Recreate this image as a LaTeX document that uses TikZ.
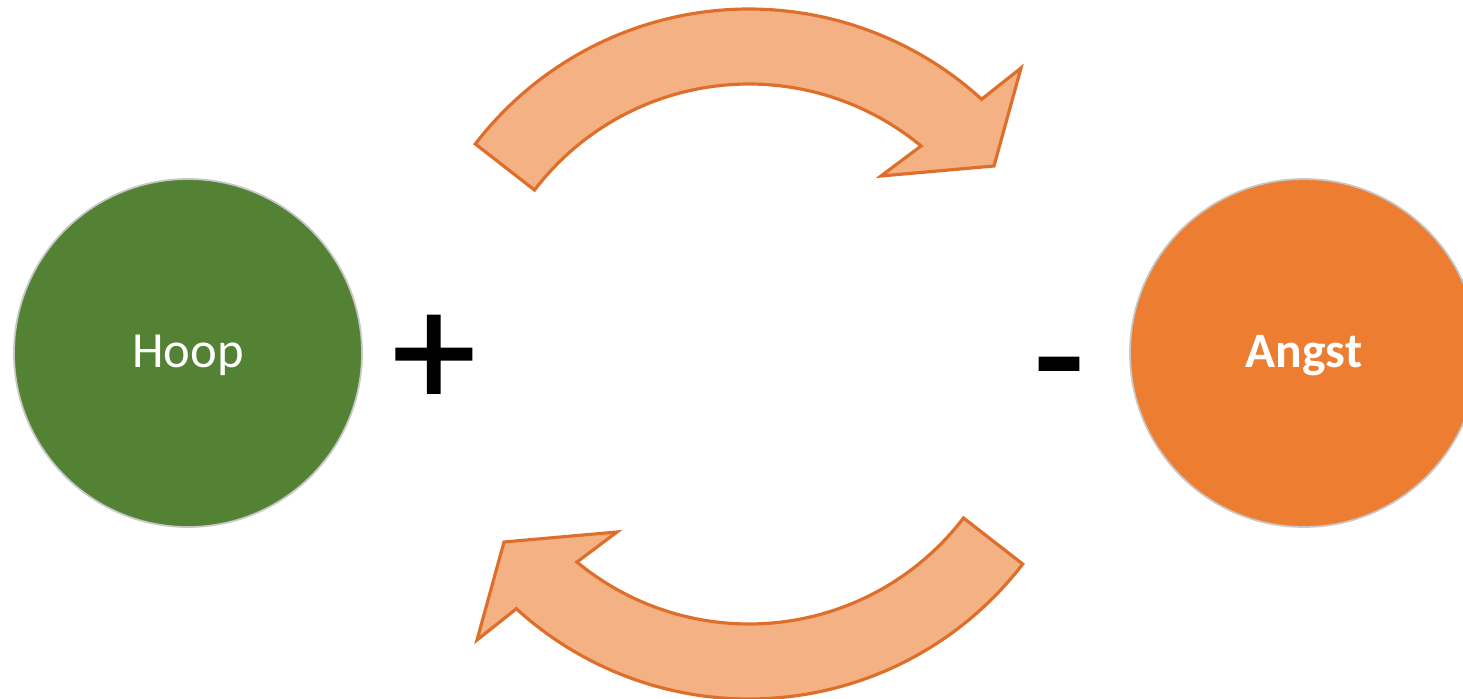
\documentclass[tikz,border=0pt]{standalone}
\usepackage{fontspec}
\setmainfont{Carlito}
\newfontfamily\symfont[FakeBold=1.3]{Carlito}
\definecolor{arrowfill}{HTML}{F4B183}
\definecolor{arrowline}{HTML}{DE6E2A}
\definecolor{hoopgreen}{HTML}{548235}
\definecolor{angstorange}{HTML}{ED7D31}
\tikzset{
  bigcircle/.style={circle, draw=black!22, line width=0.5pt, minimum size=3.48cm, inner sep=0pt},
  lbl/.style={text=white, font=\fontsize{14.4}{17}\selectfont, inner sep=0pt, anchor=base},
  sym/.style={text=black, font=\symfont\fontsize{47}{58}\selectfont, inner sep=0pt},
  looparrow/.style={fill=arrowfill, draw=arrowline, line width=0.9pt, line join=miter}
}
\begin{document}
\begin{tikzpicture}
\useasboundingbox (0,0) rectangle (14.63,6.98);
% circles
\node[bigcircle, fill=hoopgreen] (hoop) at (1.88,3.45) {};
\node[bigcircle, fill=angstorange] (angst) at (13.04,3.45) {};
\node[lbl] (hooptext) at ([yshift=-0.15cm]hoop.center) {Hoop};
\node[lbl, font=\fontsize{14.1}{17}\selectfont\bfseries] (angsttext) at ([yshift=-0.14cm]angst.center) {Angst};
% signs
\node[sym] (plus) at (4.34,3.37) {+};
\node[sym] (minus) at (10.59,3.14) {-};
% top arrow
\begin{scope}[shift={(7.49,3.44)}]
  \path[looparrow] (142.5:3.45) arc[start angle=142.5, end angle=47.6, radius=3.45]
    -- (2.72,2.86) -- (2.45,1.88) -- (1.32,1.78) -- (50.4:2.70)
    arc[start angle=50.4, end angle=142.6, radius=2.70] -- cycle;
\end{scope}
% bottom arrow
\begin{scope}[shift={(7.49,3.44)}, rotate=180]
  \path[looparrow] (142.5:3.45) arc[start angle=142.5, end angle=47.6, radius=3.45]
    -- (2.72,2.86) -- (2.45,1.88) -- (1.32,1.78) -- (50.4:2.70)
    arc[start angle=50.4, end angle=142.6, radius=2.70] -- cycle;
\end{scope}
\end{tikzpicture}
\end{document}
